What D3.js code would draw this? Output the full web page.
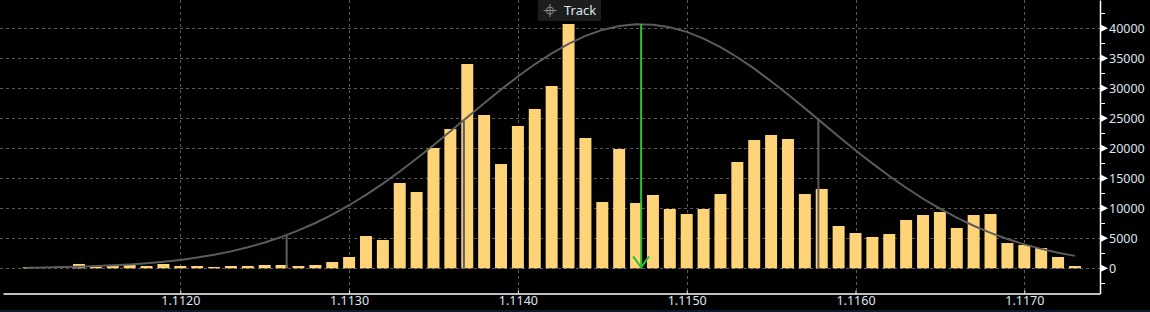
<!DOCTYPE html>
<html>
<head>
<meta charset="utf-8">
<script src="https://cdn.jsdelivr.net/npm/d3@7"></script>
<style>
  html, body { margin: 0; padding: 0; background: #000; overflow: hidden; }
  text { font-family: "Noto Sans", "Liberation Sans", sans-serif; }
</style>
</head>
<body>
<div id="chart"></div>
<script>
// price bins (bin centre)
const priceBins = [
  1.1111, 1.1112, 1.1113, 1.1114, 1.1115, 1.1116, 1.1117, 1.1118, 1.1119, 1.1120,
  1.1121, 1.1122, 1.1123, 1.1124, 1.1125, 1.1126, 1.1127, 1.1128, 1.1129, 1.1130,
  1.1131, 1.1132, 1.1133, 1.1134, 1.1135, 1.1136, 1.1137, 1.1138, 1.1139, 1.1140,
  1.1141, 1.1142, 1.1143, 1.1144, 1.1145, 1.1146, 1.1147, 1.1148, 1.1149, 1.1150,
  1.1151, 1.1152, 1.1153, 1.1154, 1.1155, 1.1156, 1.1157, 1.1158, 1.1159, 1.1160,
  1.1161, 1.1162, 1.1163, 1.1164, 1.1165, 1.1166, 1.1167, 1.1168, 1.1169, 1.1170,
  1.1171, 1.1172, 1.1173
];

// volume per bin
const volumes = [
  150, 0, 0, 720, 300, 380, 550, 380, 720, 380,
  380, 220, 380, 380, 550, 550, 380, 550, 1050, 1880,
  5380, 4720, 14220, 12720, 20050, 23220, 34050, 25550, 17380, 23720,
  26550, 30380, 40720, 21720, 11050, 19880, 10880, 12220, 9880, 9050,
  9880, 12380, 17720, 21380, 22220, 21550, 12380, 13220, 7050, 5880,
  5220, 5720, 8050, 8880, 9380, 6720, 8880, 9050, 4220, 3880,
  3380, 1880, 380
];

// distribution curve, read at each bin centre
const curveValues = [
  110, 150, 200, 270, 370, 490, 650, 840, 1090, 1400,
  1790, 2260, 2820, 3500, 4300, 5230, 6310, 7550, 8950, 10510,
  12240, 14120, 16140, 18290, 20520, 22830, 25180, 27510, 29790, 31960,
  34000, 35820, 37420, 38730, 39730, 40380, 40680, 40610, 40180, 39400,
  38280, 36860, 35180, 33270, 31180, 28960, 26660, 24320, 21980, 19690,
  17480, 15390, 13420, 11590, 9930, 8430, 7090, 5900, 4880, 3990,
  3240, 2600, 2070
];

// sigma markers (-2s, -1s, +1s) and the mean
const sigmaPrices = [1.11263, 1.11368, 1.11578];
const sigmaTops = [5400, 24500, 25000];
const meanPrice = 1.11473;
const meanTop = 40700;

const xTicks = [1.1120, 1.1130, 1.1140, 1.1150, 1.1160, 1.1170];
const yTicks = [0, 5000, 10000, 15000, 20000, 25000, 30000, 35000, 40000];
const yMinorTicks = [-2500, 2500, 7500, 12500, 17500, 22500, 27500, 32500, 37500, 42500];

const W = 1150, H = 312;
const AXIS_X = 1100, AXIS_Y = 293.5;

const svg = d3.select("#chart").append("svg")
  .attr("width", W)
  .attr("height", H)
  .style("background", "#000");

const x = d3.scaleLinear()
  .domain([1.1120, 1.1170])
  .range([180.3, 1024.3]);

const y = d3.scaleLinear()
  .domain([0, 40000])
  .range([268.3, 28.3]);

const bw = (x(1.1121) - x(1.1120)) * 0.71;

// grid
svg.append("g")
  .selectAll("line")
  .data(yTicks)
  .join("line")
  .attr("x1", 0).attr("x2", AXIS_X)
  .attr("y1", d => Math.round(y(d)) + 0.5)
  .attr("y2", d => Math.round(y(d)) + 0.5)
  .attr("stroke", "#5a5a5a")
  .attr("stroke-dasharray", "3,3");

svg.append("g")
  .selectAll("line")
  .data(xTicks)
  .join("line")
  .attr("x1", d => Math.round(x(d)) + 0.5)
  .attr("x2", d => Math.round(x(d)) + 0.5)
  .attr("y1", 0).attr("y2", AXIS_Y - 3)
  .attr("stroke", "#5a5a5a")
  .attr("stroke-dasharray", "3,3");

// bars
svg.append("g")
  .selectAll("rect")
  .data(priceBins.map((p, i) => ({ price: p, vol: volumes[i] })).filter(d => d.vol > 0))
  .join("rect")
  .attr("x", d => x(d.price) - bw / 2)
  .attr("width", bw)
  .attr("y", d => y(d.vol))
  .attr("height", d => y(0) - y(d.vol))
  .attr("fill", "#ffd479");

// sigma lines
svg.append("g")
  .selectAll("line")
  .data(sigmaPrices)
  .join("line")
  .attr("x1", d => x(d)).attr("x2", d => x(d))
  .attr("y1", (d, i) => y(sigmaTops[i]))
  .attr("y2", y(0))
  .attr("stroke", "#5c5c5c")
  .attr("stroke-width", 2);

// curve
const line = d3.line()
  .x(d => x(d.price))
  .y(d => y(d.v));

svg.append("path")
  .datum(priceBins.map((p, i) => ({ price: p, v: curveValues[i] })))
  .attr("fill", "none")
  .attr("stroke", "#5c5c5c")
  .attr("stroke-width", 2)
  .attr("d", line);

// mean line with arrow
const mx = x(meanPrice);
svg.append("line")
  .attr("x1", mx).attr("x2", mx)
  .attr("y1", y(meanTop)).attr("y2", y(0))
  .attr("stroke", "#2fbf2f")
  .attr("stroke-width", 2);
svg.append("path")
  .attr("d", `M${mx - 8},${y(0) - 12} L${mx},${y(0) - 1} L${mx + 8},${y(0) - 12}`)
  .attr("fill", "none")
  .attr("stroke", "#2fbf2f")
  .attr("stroke-width", 2);

// x axis
const xAxisScale = x.copy()
  .domain([x.invert(3), x.invert(AXIS_X)])
  .range([3, AXIS_X]);

const gx = svg.append("g")
  .attr("transform", `translate(0,${AXIS_Y})`)
  .call(d3.axisBottom(xAxisScale).tickValues(xTicks).tickFormat(d3.format(".4f"))
    .tickSizeInner(-3).tickSizeOuter(0).tickPadding(3));
gx.select(".domain").attr("stroke", "#fff").attr("stroke-width", 1.5);
gx.selectAll(".tick line").attr("stroke", "#fff");
gx.selectAll("text")
  .attr("fill", "#dce6f2")
  .style("font-size", "12.5px")
  .style("font-family", "'Noto Sans', sans-serif");

// y axis
const yAxisScale = y.copy()
  .domain([y.invert(0), y.invert(AXIS_Y)])
  .range([0, AXIS_Y]);

const gy = svg.append("g")
  .attr("transform", `translate(${AXIS_X},0)`)
  .call(d3.axisRight(yAxisScale).tickValues(yTicks).tickFormat(d3.format("d")).tickSize(0).tickPadding(9));
gy.select(".domain").attr("stroke", "#fff").attr("stroke-width", 1.5);
gy.selectAll("text")
  .attr("fill", "#dce6f2")
  .style("font-size", "12.5px")
  .style("font-family", "'Noto Sans', sans-serif");

// major tick triangles
gy.selectAll(".tri")
  .data(yTicks)
  .join("path")
  .attr("class", "tri")
  .attr("d", d => `M0,${y(d) - 4} L8,${y(d)} L0,${y(d) + 4} Z`)
  .attr("fill", "#fff");

// minor ticks
gy.selectAll(".minor")
  .data(yMinorTicks)
  .join("line")
  .attr("class", "minor")
  .attr("x1", 0).attr("x2", 5)
  .attr("y1", d => Math.round(y(d)) + 0.5)
  .attr("y2", d => Math.round(y(d)) + 0.5)
  .attr("stroke", "#fff");

// bottom strip
svg.append("rect")
  .attr("x", 0).attr("y", 310)
  .attr("width", W).attr("height", 2)
  .attr("fill", "#0b1a2e");

// Track button
const track = svg.append("g").attr("transform", "translate(538,0)");
track.append("rect")
  .attr("width", 63).attr("height", 21)
  .attr("fill", "#1d1d1d");
track.append("circle")
  .attr("cx", 12).attr("cy", 10.5).attr("r", 3.5)
  .attr("fill", "none").attr("stroke", "#8a8a8a");
track.append("path")
  .attr("d", "M12,4 V17 M5.5,10.5 H18.5")
  .attr("stroke", "#8a8a8a");
track.append("text")
  .attr("x", 26).attr("y", 15)
  .attr("fill", "#dfe6ee")
  .style("font-size", "13px")
  .text("Track");
</script>
</body>
</html>
